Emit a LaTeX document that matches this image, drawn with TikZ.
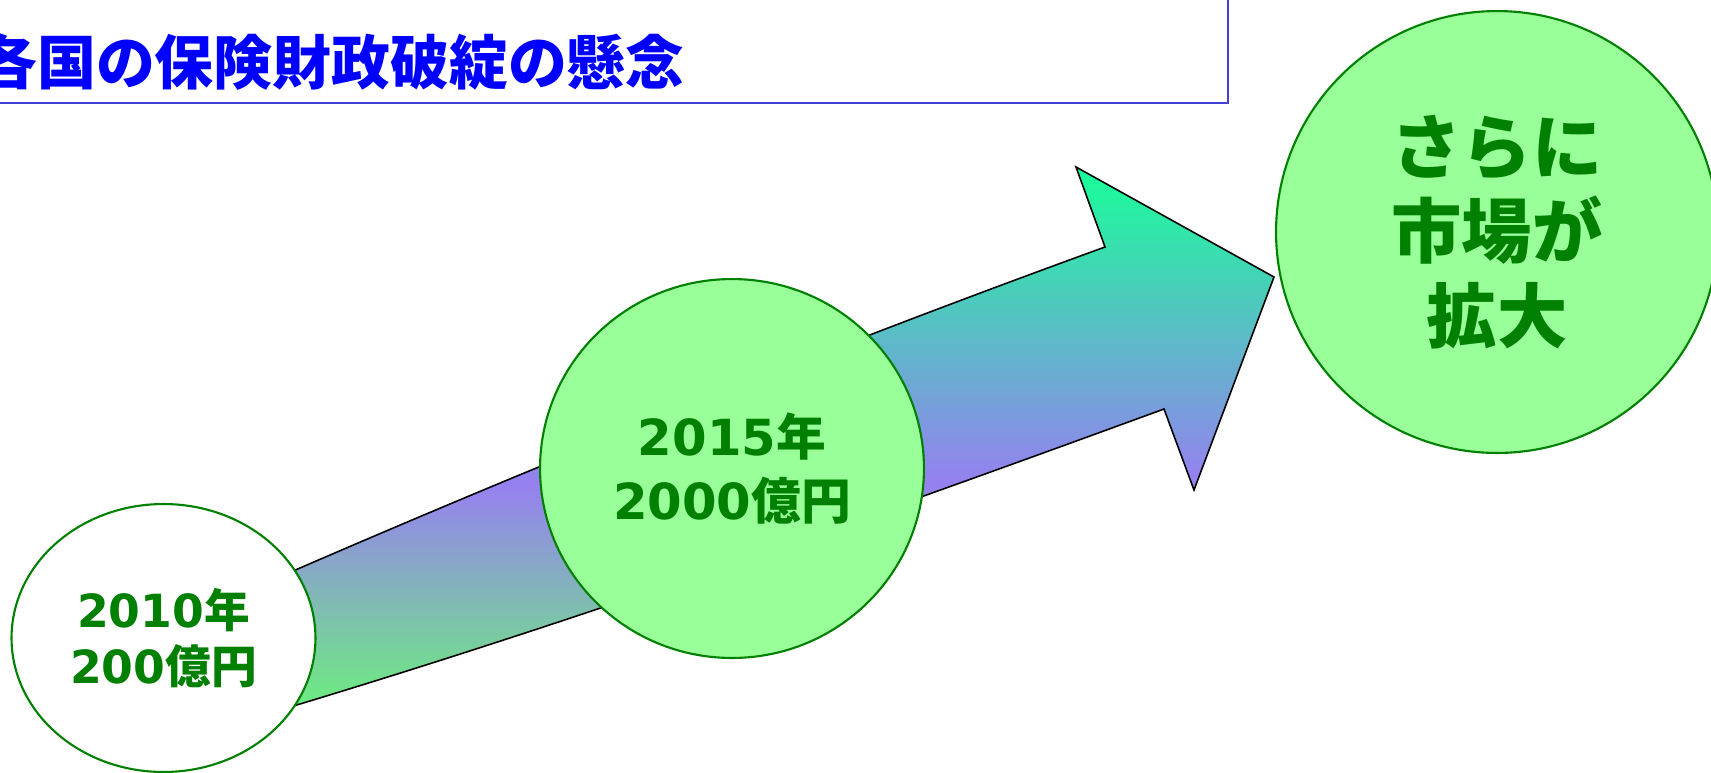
\documentclass[tikz,border=0pt]{standalone}
\usepackage{fontspec}
\usepackage{tikz}
\usetikzlibrary{shapes}
\newfontfamily\jpfont{Noto Sans CJK JP}
\newfontfamily\numfont{DejaVu Sans}
\definecolor{titleblue}{RGB}{0,0,255}
\definecolor{boxline}{RGB}{64,64,216}
\definecolor{bubbleline}{RGB}{0,128,0}
\definecolor{bubblefill}{RGB}{153,255,153}
\definecolor{arrowtop}{RGB}{24,255,152}
\definecolor{arrowmid}{RGB}{150,128,240}
\definecolor{arrowbot}{RGB}{108,240,124}
\pgfdeclareverticalshading{arrowshade}{100bp}{color(0bp)=(arrowbot); color(25bp)=(arrowbot); color(46bp)=(arrowmid); color(75bp)=(arrowtop); color(100bp)=(arrowtop)}
\tikzstyle{bubble}=[ellipse,draw=bubbleline,line width=1.2pt,fill=bubblefill,inner sep=0pt,align=center,text=bubbleline]
\tikzstyle{arrowbody}=[draw=black,line width=0.9pt,shading=arrowshade]
\tikzstyle{titlebox}=[draw=boxline,line width=1.3pt]

\begin{document}
\begin{tikzpicture}[x=0.02cm,y=-0.02cm]
    \useasboundingbox (0,0) rectangle (1711,772);
    % Title box, cut off at the top and left
    \draw[titlebox] (-20,-20) rectangle (1228,103);
    \node[anchor=base east,inner sep=0pt,text=titleblue,font=\jpfont\bfseries\fontsize{33.5}{36}\selectfont] (title) at (685,84) {各国の保険財政破綻の懸念};
    % The big arrow, drawn before the bubbles
    \path[arrowbody] (270,581) .. controls (548,460) and (827,348) .. (1105,247)
        -- (1076,167) -- (1274,277) -- (1194,490) -- (1164,409)
        .. controls (866,518) and (568,624) .. (270,713) -- cycle;
    % Then the bubbles on top
    \node[bubble,fill=white,minimum width=6.08cm,minimum height=5.36cm,
        font=\jpfont\bfseries\fontsize{26}{32}\selectfont] (y2010) at (163.5,638) {{\numfont 2010}年\\{\numfont 200}億円};
    \node[bubble,minimum width=7.68cm,minimum height=7.58cm,
        font=\jpfont\bfseries\fontsize{28.3}{36.8}\selectfont] (y2015) at (732,468.5) {{\numfont 2015}年\\{\numfont 2000}億円};
    \node[bubble,minimum width=8.84cm,minimum height=8.84cm,
        font=\jpfont\bfseries\fontsize{40}{48}\selectfont] (future) at (1497,232) {さらに\\市場が\\拡大};
\end{tikzpicture}
\end{document}
